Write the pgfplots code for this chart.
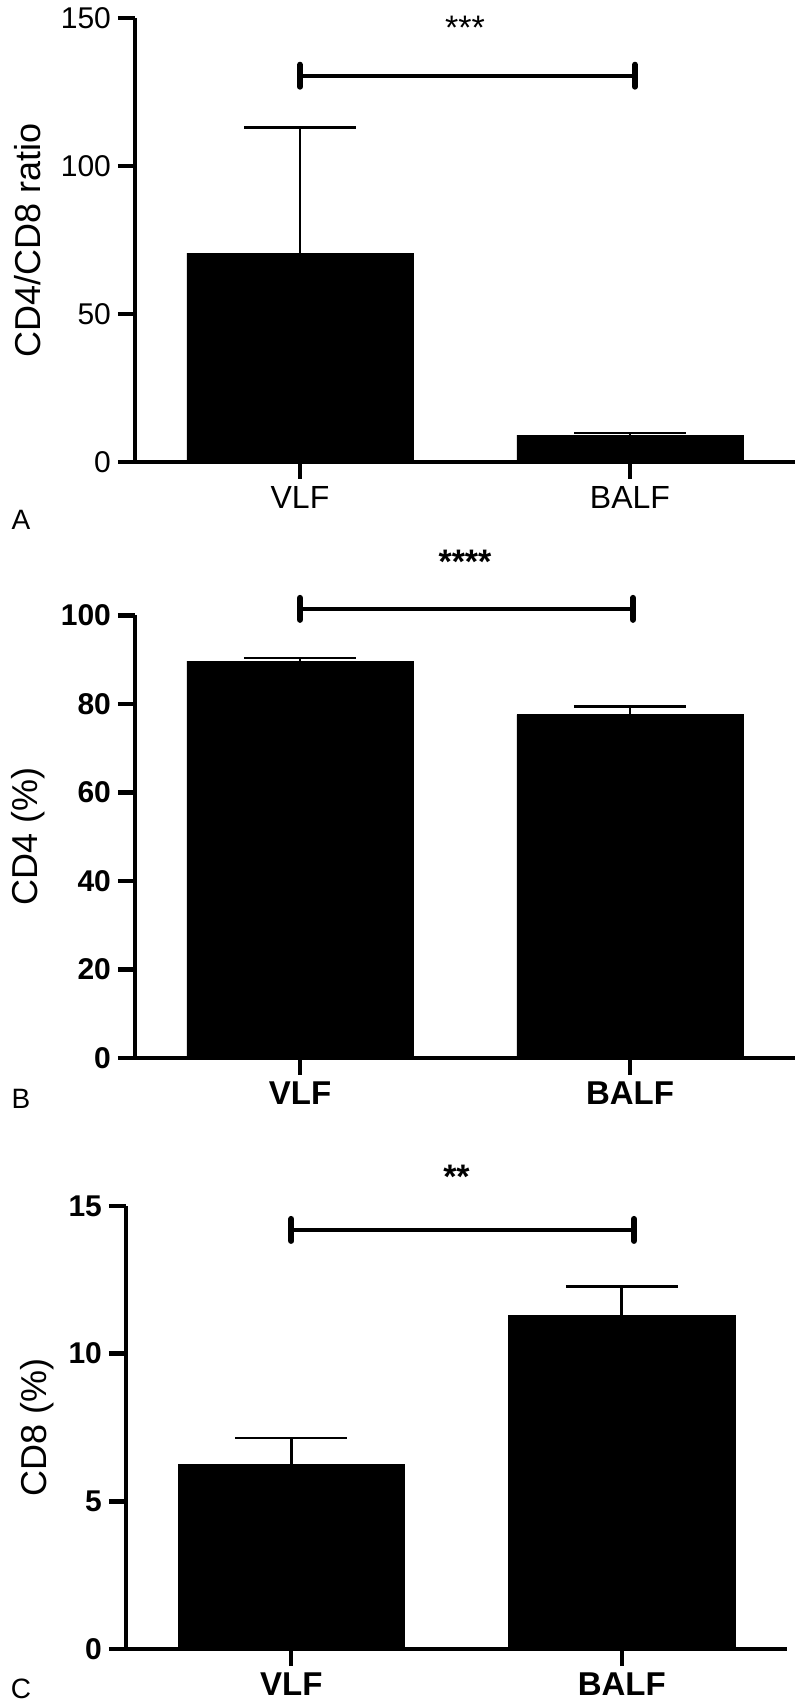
\documentclass[border=0pt]{standalone}
\usepackage{fontspec}
\setmainfont{Liberation Sans}
\usepackage{pgfplots}
\pgfplotsset{compat=1.18}

\newcommand{\fs}[1]{\fontsize{#1}{#1}\selectfont}
% significance bracket: y value, right end x
\newcommand{\sigbar}[2]{%
  \draw[line width=2.2pt] (axis cs:0,#1) -- (axis cs:#2,#1);
  \draw[line width=3pt, line cap=round] ([yshift=-5.5pt]axis cs:0,#1) -- ([yshift=5.5pt]axis cs:0,#1);
  \draw[line width=3pt, line cap=round] ([yshift=-5.5pt]axis cs:#2,#1) -- ([yshift=5.5pt]axis cs:#2,#1);}

\pgfplotsset{
  panel/.style={
    scale only axis, width=330pt, anchor=south west,
    xmin=-0.5, xmax=1.5, ymin=0,
    enlargelimits=false, clip=false,
    axis x line*=bottom, axis y line*=left,
    axis line style={line width=2.2pt, -},
    tick align=outside, major tick length=8.5pt,
    tick style={line width=2.2pt, black},
    minor tick num=0,
    xtick={0,1}, xticklabels={VLF,BALF},
    /pgf/number format/assume math mode=true,
    ylabel style={font=\fs{18}, anchor=center},
    ybar, bar width=0.685,
  },
  bars/.style={
    fill=black, draw=black,
    error bars/.cd, y dir=plus, y explicit,
    error bar style={line width=1.3pt, black},
    error mark options={rotate=90, mark size=28pt, line width=1.3pt, black},
  },
}

\begin{document}
\begin{tikzpicture}
\useasboundingbox (0,0) rectangle (400pt,852.5pt);

% A
\begin{axis}[panel, at={(67.5pt,621.5pt)}, height=222pt,
  ymax=150, ytick={0,50,100,150},
  ticklabel style={font=\fs{15}},
  xticklabel style={font=\fs{16}},
  ylabel={CD4/CD8 ratio},
  ylabel style={at={(axis description cs:-0.162,0.5)}}]
\addplot[bars] coordinates {(0,70.6) +- (0,42.4) (1,9.1) +- (0,0.7)};
\sigbar{130.5}{1.015}
\node[anchor=base, font=\fs{17}] at (axis cs:0.5,142.6) {***};
\end{axis}

% B
\begin{axis}[panel, at={(67.5pt,323.5pt)}, height=221.25pt,
  ymax=100, ytick={0,20,...,100},
  ticklabel style={font=\bfseries\fs{15}},
  xticklabel style={font=\bfseries\fs{16.5}},
  ylabel={CD4 (\%)},
  ylabel style={at={(axis description cs:-0.162,0.5)}}]
\addplot[bars] coordinates {(0,89.7) +- (0,0.7) (1,77.6) +- (0,1.9)};
\sigbar{101.5}{1.009}
\node[anchor=base, font=\bfseries\fs{17}] at (axis cs:0.5,109.6) {****};
\end{axis}

% C
\begin{axis}[panel, at={(63pt,28pt)}, width=330.5pt, height=221.5pt,
  ymax=15, ytick={0,5,10,15},
  ticklabel style={font=\bfseries\fs{15}},
  xticklabel style={font=\bfseries\fs{16.5}},
  ylabel={CD8 (\%)},
  ylabel style={at={(axis description cs:-0.135,0.5)}}]
\addplot[bars] coordinates {(0,6.26) +- (0,0.88) (1,11.28) +- (0,1.0)};
\sigbar{14.19}{1.037}
\node[anchor=base, font=\bfseries\fs{17}] at (axis cs:0.5,15.58) {**};
\end{axis}

\node[font=\fs{14}] at (10.5pt,592.5pt) {A};
\node[font=\fs{14}] at (10.5pt,303pt) {B};
\node[font=\fs{14}] at (10.5pt,8pt) {C};
\end{tikzpicture}
\end{document}
